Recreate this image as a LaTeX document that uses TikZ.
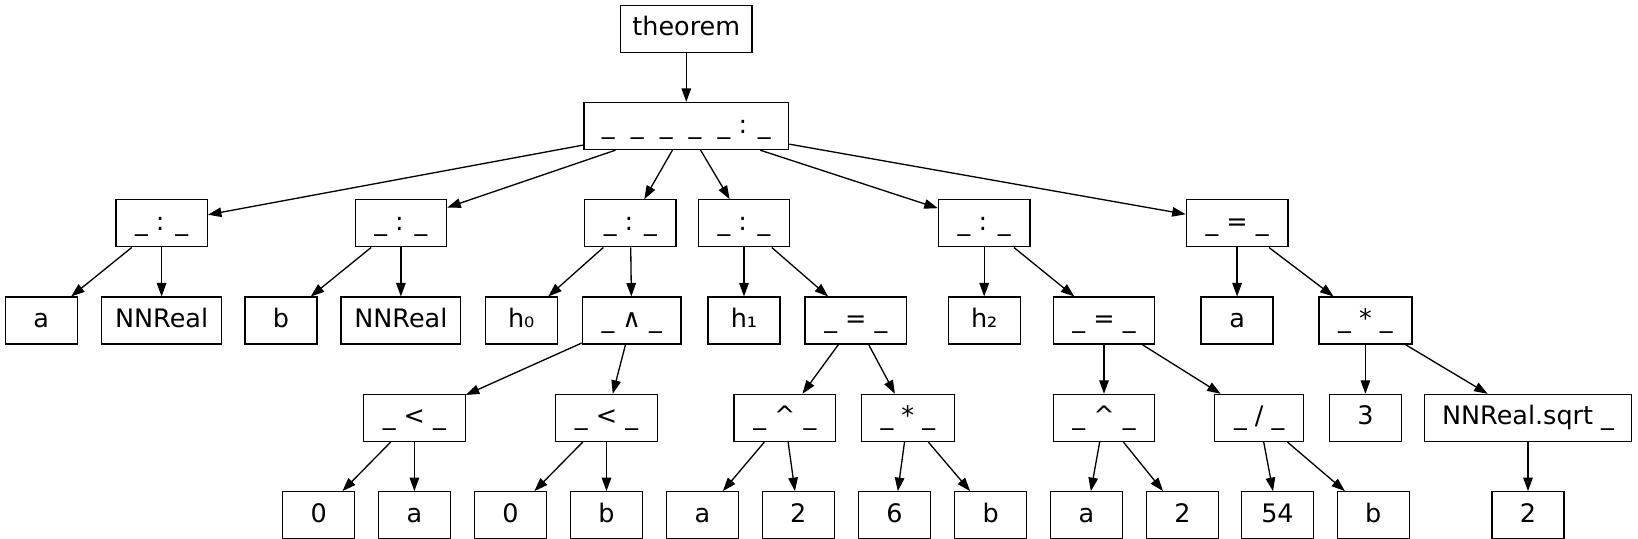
\documentclass[tikz,border=0pt]{standalone}
\usepackage{fontspec}
\setmainfont{DejaVu Sans}
\usepackage{tikz}
\usetikzlibrary{positioning,arrows.meta}
\newcommand{\op}[1]{\_ #1 \_}
\newcommand{\tip}{Triangle[length=2.7mm,width=1.9mm]}

\begin{document}
\begin{tikzpicture}[auto,node distance=0.98cm,
  box/.style={draw,line width=0.75pt,minimum width=1.44cm,minimum height=0.94cm,
    inner xsep=0.385cm,inner ysep=0pt,text height=0.61cm,text depth=0.33cm,
    font=\fontsize{14.5}{17}\selectfont},
  word/.style={inner xsep=1mm,minimum width=#1},
  every node/.style={box}]
\useasboundingbox (-13.726,0.574) rectangle (19.034,-10.206);
\node[word=2.632cm]                      (thm)   {theorem};
\node[below=of thm,word=4.094cm]         (intro) {\_\ \ \_\ \ \_\ \ \_\ \ \_ : \_};
%
\node[below=of intro,xshift=-10.494cm]   (ta)    {\op{:}};
\node[below=of intro,xshift=-5.708cm]    (tb)    {\op{:}};
\node[below=of intro,xshift=-1.118cm]    (th0)   {\op{:}};
\node[below=of intro,xshift=1.154cm]     (th1)   {\op{:}};
\node[below=of intro,xshift=5.958cm]     (th2)   {\op{:}};
\node[below=of intro,xshift=11.016cm]    (goal)  {\op{=}};
%
\node[below=of ta,xshift=-2.406cm]       (a1)    {a};
\node[below=of ta,word=2.392cm]          (nn1)   {NNReal};
\node[below=of tb,xshift=-2.398cm]       (b1)    {b};
\node[below=of tb,word=2.392cm]          (nn2)   {NNReal};
\node[below=of th0,xshift=-2.184cm]      (h0)    {h₀};
\node[below=of th0,xshift=0.026cm]       (conj)  {\op{∧}};
\node[below=of th1]                      (h1)    {h₁};
\node[below=of th1,xshift=2.238cm]       (eq1)   {\op{=}};
\node[below=of th2]                      (h2)    {h₂};
\node[below=of th2,xshift=2.396cm]       (eq2)   {\op{=}};
\node[below=of goal]                     (a2)    {a};
\node[below=of goal,xshift=2.566cm]      (mul1)  {\op{*}};
%
\node[below=of conj,xshift=-4.346cm]     (lt1)   {\op{<}};
\node[below=of conj,xshift=-0.504cm]     (lt2)   {\op{<}};
\node[below=of eq1,xshift=-1.422cm]      (pow1)  {\op{\textasciicircum}};
\node[below=of eq1,xshift=1.038cm]       (mul2)  {\op{*}};
\node[below=of eq2]                      (pow2)  {\op{\textasciicircum}};
\node[below=of eq2,xshift=3.104cm]       (div)   {\op{/}};
\node[below=of mul1]                     (three) {3};
\node[below=of mul1,xshift=3.252cm,word=4.13cm] (sqrt) {NNReal.sqrt \_};
%
\node[below=of lt1,xshift=-1.914cm]      (z1)    {0};
\node[below=of lt1]                      (a3)    {a};
\node[below=of lt2,xshift=-1.918cm]      (z2)    {0};
\node[below=of lt2]                      (b2)    {b};
\node[below=of pow1,xshift=-1.648cm]     (a4)    {a};
\node[below=of pow1,xshift=0.27cm]       (two1)  {2};
\node[below=of mul2,xshift=-0.266cm]     (six)   {6};
\node[below=of mul2,xshift=1.658cm]      (b3)    {b};
\node[below=of pow2,xshift=-0.35cm]      (a5)    {a};
\node[below=of pow2,xshift=1.57cm]       (two2)  {2};
\node[below=of div,xshift=0.366cm]       (n54)   {54};
\node[below=of div,xshift=2.28cm]        (b4)    {b};
\node[below=of sqrt]                     (two3)  {2};
%
\path[-{\tip},line width=0.75pt]
	(thm)   edge (intro)
	(intro) edge (ta)   (intro) edge (tb)   (intro) edge (th0)
	(intro) edge (th1)  (intro) edge (th2)  (intro) edge (goal)
	(ta)    edge (a1)   (ta)    edge (nn1)
	(tb)    edge (b1)   (tb)    edge (nn2)
	(th0)   edge (h0)   (th0)   edge (conj)
	(th1)   edge (h1)   (th1)   edge (eq1)
	(th2)   edge (h2)   (th2)   edge (eq2)
	(goal)  edge (a2)   (goal)  edge (mul1)
	(conj)  edge (lt1)  (conj)  edge (lt2)
	(eq1)   edge (pow1) (eq1)   edge (mul2)
	(eq2)   edge (pow2) (eq2)   edge (div)
	(mul1)  edge (three) (mul1) edge (sqrt)
	(lt1)   edge (z1)   (lt1)   edge (a3)
	(lt2)   edge (z2)   (lt2)   edge (b2)
	(pow1)  edge (a4)   (pow1)  edge (two1)
	(mul2)  edge (six)  (mul2)  edge (b3)
	(pow2)  edge (a5)   (pow2)  edge (two2)
	(div)   edge (n54)  (div)   edge (b4)
	(sqrt)  edge (two3)
; %-path-%
\end{tikzpicture}
\end{document}
